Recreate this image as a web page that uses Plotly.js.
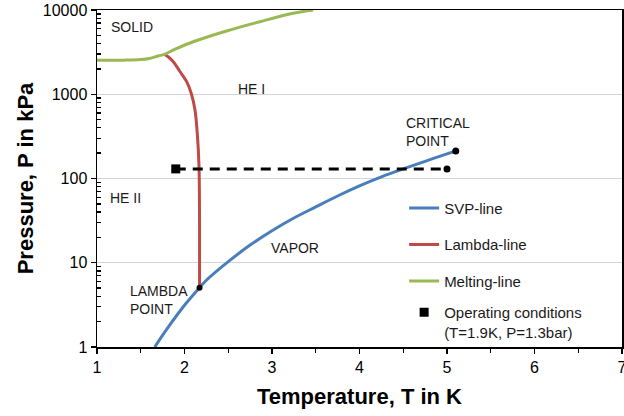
<!DOCTYPE html>
<html>
<head>
<meta charset="utf-8">
<script src="https://cdn.plot.ly/plotly-3.0.1.min.js"></script>
<style>html,body{margin:0;padding:0;background:#fff;}#chart{width:624px;height:416px;}</style>
</head>
<body>
<div id="chart"></div>
<script>
// Saturated vapour pressure line (T in K, P in kPa)
var svpT = [1.66, 1.8, 2.0, 2.17, 2.25, 2.5, 2.75, 3.0, 3.25, 3.5, 3.75, 4.0, 4.25, 4.5, 4.75, 5.0, 5.1];
var svpP = [1.0, 1.64, 3.13, 5.04, 6.2, 10.3, 16.2, 24.0, 34.0, 46.0, 62.0, 81.6, 104.5, 130.0, 160.0, 196.0, 212.0];
// Lambda line
var lamT = [1.77, 1.82, 1.872, 1.95, 2.025, 2.08, 2.12, 2.146, 2.166, 2.172, 2.172];
var lamP = [2980, 2750, 2430, 1850, 1410, 1000, 650, 344, 138, 30, 5.04];
// Melting line
var meltT = [1.0, 1.3, 1.5, 1.6, 1.7, 1.77, 1.9, 2.1, 2.48, 2.86, 3.24, 3.47];
var meltP = [2530, 2540, 2580, 2660, 2850, 2980, 3450, 4200, 5640, 7260, 9140, 10000];
// Operating conditions and special points
var opT = [1.9], opP = [130];
var dashT = [1.9, 5.0], dashP = [130, 130];
var critT = [5.1], critP = [212];
var lambdaPtT = [2.172], lambdaPtP = [5.04];
// Axis ticks
var xTicks = [1, 2, 3, 4, 5, 6, 7];
var yTickVals = [1, 10, 100, 1000, 10000];
var yTickText = ['1', '10', '100', '1000', '10000'];

var FONT = 'Liberation Sans, Arial, sans-serif';
var cBlue = '#4A7EBB', cRed = '#BE4B48', cGreen = '#98B954';

var traces = [
  {x: svpT, y: svpP, type: 'scatter', mode: 'lines', name: 'SVP-line', line: {color: cBlue, width: 3, shape: 'spline'}, legendgroup: 'a'},
  {x: lamT, y: lamP, type: 'scatter', mode: 'lines', name: 'Lambda-line', line: {color: cRed, width: 3, shape: 'spline', smoothing: 0.8}, legendgroup: 'b'},
  {x: meltT, y: meltP, type: 'scatter', mode: 'lines', name: 'Melting-line', line: {color: cGreen, width: 3, shape: 'spline'}, legendgroup: 'c'},
  {x: dashT, y: dashP, type: 'scatter', mode: 'lines', showlegend: false, line: {color: '#000', width: 3, dash: '10px,7px'}},
  {x: [dashT[1]], y: [dashP[1]], type: 'scatter', mode: 'markers', showlegend: false, marker: {color: '#000', size: 7, symbol: 'circle'}},
  {x: critT, y: critP, type: 'scatter', mode: 'markers', showlegend: false, marker: {color: '#000', size: 7, symbol: 'circle'}},
  {x: lambdaPtT, y: lambdaPtP, type: 'scatter', mode: 'markers', showlegend: false, marker: {color: '#000', size: 6, symbol: 'circle'}},
  {x: opT, y: opP, type: 'scatter', mode: 'markers', name: 'Operating conditions<br>(T=1.9K, P=1.3bar)', legend: 'legend2', marker: {color: '#000', size: 9, symbol: 'square'}}
];

var annFont = {family: FONT, size: 14, color: '#1a1a1a'};
function lg(v){ return Math.log10(v); }
var annotations = [
  {x: 1.40, y: lg(6290), text: 'SOLID', xanchor: 'center'},
  {x: 2.76, y: lg(1155), text: 'HE I', xanchor: 'center'},
  {x: 4.51, y: lg(352), text: 'CRITICAL<br>POINT', xanchor: 'left', align: 'left'},
  {x: 1.13, y: lg(58.7), text: 'HE II', xanchor: 'left'},
  {x: 3.26, y: lg(15.0), text: 'VAPOR', xanchor: 'center'},
  {x: 1.35, y: lg(3.66), text: 'LAMBDA<br>POINT', xanchor: 'left', align: 'left'}
].map(function(a){ return Object.assign({xref: 'x', yref: 'y', showarrow: false, font: annFont, yanchor: 'middle'}, a); });

var legFont = {family: FONT, size: 15, color: '#1a1a1a'};
var layout = {
  width: 624, height: 416,
  margin: {l: 97, r: 2, t: 10, b: 69},
  paper_bgcolor: '#fff', plot_bgcolor: '#fff',
  font: {family: FONT, color: '#000'},
  showlegend: true,
  legend: {x: 0.585, y: 0.461, xanchor: 'left', yanchor: 'top', bgcolor: 'rgba(0,0,0,0)',
           font: legFont, tracegroupgap: 14, traceorder: 'grouped'},
  legend2: {x: 0.585, y: 0.151, xanchor: 'left', yanchor: 'top', bgcolor: 'rgba(0,0,0,0)',
           font: legFont, valign: 'top'},
  xaxis: {
    range: [1, 7], tickmode: 'array', tickvals: xTicks, ticktext: xTicks.map(String),
    ticks: 'outside', ticklen: 5, tickcolor: '#000', tickwidth: 1.3, ticklabeloverflow: 'allow',
    showgrid: false, zeroline: false,
    showline: true, linecolor: '#000', linewidth: 1.5, mirror: true,
    tickfont: {family: FONT, size: 16, color: '#000'},
    minor: {dtick: 0.5, ticks: 'outside', ticklen: 4, tickcolor: '#000', showgrid: false},
    title: {text: '<b>Temperature, T in K</b>', font: {family: FONT, size: 22, color: '#000'}, standoff: 14}
  },
  yaxis: {
    type: 'log', range: [0, 4], tickmode: 'array', tickvals: yTickVals, ticktext: yTickText,
    ticks: 'outside', ticklen: 5, tickcolor: '#000', tickwidth: 1.3,
    showgrid: true, gridcolor: '#D4D4D4', gridwidth: 1,
    showline: true, linecolor: '#000', linewidth: 1.5, mirror: true,
    tickfont: {family: FONT, size: 16, color: '#000'},
    minor: {tickmode: 'array', tickvals: [2,3,4,5,6,7,8,9,20,30,40,50,60,70,80,90,200,300,400,500,600,700,800,900,2000,3000,4000,5000,6000,7000,8000,9000],
            ticks: 'inside', ticklen: 4, tickcolor: '#000', showgrid: false},
    title: {text: '<b>Pressure, P in kPa</b>', font: {family: FONT, size: 22, color: '#000'}, standoff: 3}
  },
  annotations: annotations
};

Plotly.newPlot('chart', traces, layout, {displayModeBar: false, staticPlot: true});
</script>
</body>
</html>
